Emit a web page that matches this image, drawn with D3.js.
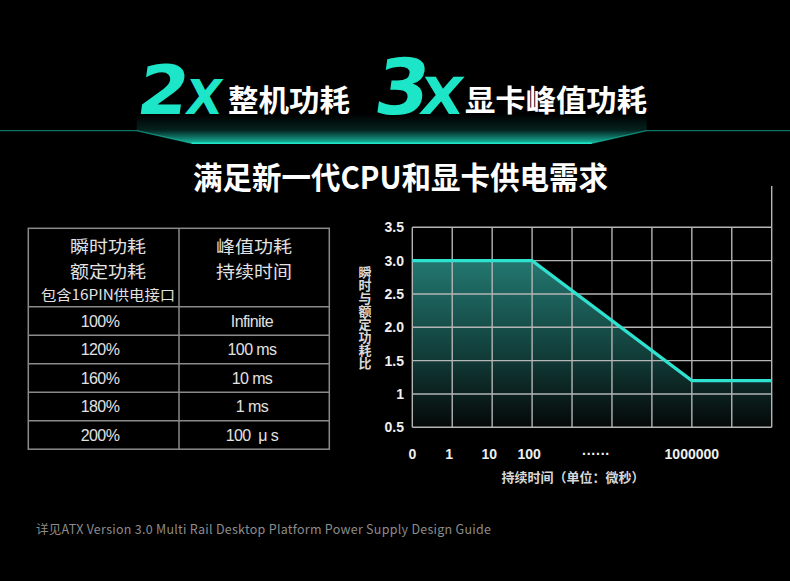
<!DOCTYPE html>
<html>
<head>
<meta charset="utf-8">
<script src="https://cdn.jsdelivr.net/npm/d3@7"></script>
<style>
  html, body { margin: 0; padding: 0; background: #000; }
  svg { display: block; }
</style>
</head>
<body>
<div id="chart"></div>
<script>
// chart data
const yTicks = [0.5, 1, 1.5, 2, 2.5, 3, 3.5];
const yTickLabels = ["0.5", "1", "1.5", "2.0", "2.5", "3.0", "3.5"];
const gridCols = [0, 1, 2, 3, 4, 5, 6, 7, 8, 9];
const xTickPos = [0, 1, 2, 3, 4.6, 7];
const xTickLabels = ["0", "1", "10", "100", "······", "1000000"];
const curveX = [0, 3, 7, 9];
const curveY = [3.0, 3.0, 1.2, 1.2];

// table data
const headLeft = ["瞬时功耗", "额定功耗", "包含16PIN供电接口"];
const headRight = ["峰值功耗", "持续时间"];
const ratios = ["100%", "120%", "160%", "180%", "200%"];
const durations = ["Infinite", "100 ms", "10 ms", "1 ms", "100  μ s"];

const W = 790, H = 581;
const teal = "#1de6c8";
const cjk = "'Noto Sans CJK SC', 'Noto Sans', sans-serif";

const svg = d3.select("#chart").append("svg")
    .attr("width", W)
    .attr("height", H);

const defs = svg.append("defs");

const glow = defs.append("linearGradient")
    .attr("id", "glow").attr("x1", 0).attr("y1", 0).attr("x2", 0).attr("y2", 1);
glow.append("stop").attr("offset", "0%").attr("stop-color", teal).attr("stop-opacity", 0);
glow.append("stop").attr("offset", "55%").attr("stop-color", teal).attr("stop-opacity", 0.15);
glow.append("stop").attr("offset", "100%").attr("stop-color", teal).attr("stop-opacity", 0.8);

const areaGrad = defs.append("linearGradient")
    .attr("id", "areaGrad").attr("x1", 0).attr("y1", 0).attr("x2", 0).attr("y2", 1);
areaGrad.append("stop").attr("offset", "0%").attr("stop-color", "#237770");
areaGrad.append("stop").attr("offset", "55%").attr("stop-color", "#123f3b");
areaGrad.append("stop").attr("offset", "100%").attr("stop-color", "#050808");

svg.append("rect").attr("width", W).attr("height", H).attr("fill", "#000");

// ---- headline ----
function bigGlyph(x, ch, len, size) {
    svg.append("text")
        .attr("x", x).attr("y", 114.5)
        .attr("font-family", "'DejaVu Sans', sans-serif")
        .attr("font-weight", "bold")
        .attr("font-size", size)
        .attr("fill", teal)
        .attr("textLength", len)
        .attr("lengthAdjust", "spacingAndGlyphs")
        .attr("transform", `skewX(-8) translate(${114.5 * Math.tan(8 * Math.PI / 180)},0)`)
        .text(ch);
}
bigGlyph(135, "2", 51, 68);
bigGlyph(184, "X", 36, 48);
bigGlyph(372, "3", 54, 77);
bigGlyph(418, "X", 43, 51);

svg.append("text")
    .attr("x", 228).attr("y", 111)
    .attr("font-family", cjk).attr("font-weight", "bold").attr("font-size", 30)
    .attr("fill", "#fff")
    .attr("textLength", 122).attr("lengthAdjust", "spacingAndGlyphs")
    .text("整机功耗");
svg.append("text")
    .attr("x", 465).attr("y", 111)
    .attr("font-family", cjk).attr("font-weight", "bold").attr("font-size", 30)
    .attr("fill", "#fff")
    .attr("textLength", 182).attr("lengthAdjust", "spacingAndGlyphs")
    .text("显卡峰值功耗");

// glowing band under the headline
svg.append("path")
    .attr("d", "M136.7,114 L646.7,114 L646.7,130.7 L591.7,143.3 L191.7,143.3 L136.7,130.7 Z")
    .attr("fill", "url(#glow)");
svg.append("path")
    .attr("d", "M0,130.7 L136.7,130.7 L191.7,143.3 L591.7,143.3 L646.7,130.7 L790,130.7")
    .attr("fill", "none")
    .attr("stroke", teal)
    .attr("stroke-opacity", 0.5)
    .attr("stroke-width", 1.2);
svg.append("line")
    .attr("x1", 191.7).attr("x2", 591.7).attr("y1", 143.3).attr("y2", 143.3)
    .attr("stroke", teal).attr("stroke-width", 1.6);

svg.append("text")
    .attr("x", 193).attr("y", 189)
    .attr("font-family", cjk).attr("font-weight", "bold").attr("font-size", 31)
    .attr("fill", "#fff")
    .attr("textLength", 415).attr("lengthAdjust", "spacingAndGlyphs")
    .text("满足新一代CPU和显卡供电需求");

// ---- table ----
const tLeft = 28.3, tMid = 179, tRight = 329.3, tTop = 228.3, headBottom = 306.7, rowH = 28.5;
const rowScale = d3.scaleBand()
    .domain(d3.range(ratios.length))
    .range([headBottom, headBottom + rowH * ratios.length]);
const tBottom = headBottom + rowH * ratios.length;
const table = svg.append("g");

table.append("rect")
    .attr("x", tLeft).attr("y", tTop)
    .attr("width", tRight - tLeft).attr("height", tBottom - tTop)
    .attr("fill", "none").attr("stroke", "#8a8a8a").attr("stroke-width", 1.5);
table.append("line")
    .attr("x1", tMid).attr("x2", tMid).attr("y1", tTop).attr("y2", tBottom)
    .attr("stroke", "#8a8a8a").attr("stroke-width", 1.5);
table.selectAll("line.row")
    .data(d3.range(ratios.length))
    .enter().append("line")
    .attr("class", "row")
    .attr("x1", tLeft).attr("x2", tRight)
    .attr("y1", d => rowScale(d)).attr("y2", d => rowScale(d))
    .attr("stroke", "#8a8a8a").attr("stroke-width", 1.5);

// header cells, one text per line
const headY = [253, 278, 300];
const headSize = [17, 17, 14];
const headLen = [76, 76, 134];
function headCell(lines, cx) {
    table.selectAll(null)
        .data(lines)
        .enter().append("text")
        .attr("x", (d, i) => cx - headLen[i] / 2)
        .attr("y", (d, i) => headY[i])
        .attr("font-family", cjk)
        .attr("font-size", (d, i) => headSize[i])
        .attr("textLength", (d, i) => headLen[i])
        .attr("lengthAdjust", "spacingAndGlyphs")
        .attr("fill", "#e2e2e2")
        .text(d => d);
}
headCell(headLeft, 108);
headCell(headRight, 254);

const cellFont = "'Liberation Sans', sans-serif";
table.selectAll("text.ratio")
    .data(ratios)
    .enter().append("text")
    .attr("class", "ratio")
    .attr("x", 100)
    .attr("y", (d, i) => rowScale(i) + rowScale.bandwidth() / 2 + 5.8)
    .attr("text-anchor", "middle")
    .attr("font-family", cellFont).attr("font-size", 16)
    .attr("letter-spacing", -0.6)
    .attr("fill", "#e2e2e2")
    .text(d => d);
table.selectAll("text.dur")
    .data(durations)
    .enter().append("text")
    .attr("class", "dur")
    .attr("x", 252)
    .attr("y", (d, i) => rowScale(i) + rowScale.bandwidth() / 2 + 5.8)
    .attr("text-anchor", "middle")
    .attr("font-family", cellFont).attr("font-size", 16)
    .attr("letter-spacing", -0.6)
    .attr("fill", "#e2e2e2")
    .style("white-space", "pre")
    .text(d => d);

// ---- chart ----
const x = d3.scaleLinear().domain([0, 9]).range([412.3, 771.7]);
const y = d3.scaleLinear().domain([0.5, 3.5]).range([427.3, 227.3]);
const plot = svg.append("g");

const area = d3.area()
    .x(d => x(d[0]))
    .y0(y(0.5))
    .y1(d => y(d[1]));
const line = d3.line()
    .x(d => x(d[0]))
    .y(d => y(d[1]));
const pts = curveX.map((v, i) => [v, curveY[i]]);

plot.append("path")
    .datum(pts)
    .attr("d", area)
    .attr("fill", "url(#areaGrad)");

plot.selectAll("line.hgrid")
    .data(yTicks)
    .enter().append("line")
    .attr("class", "hgrid")
    .attr("x1", x(0)).attr("x2", x(9))
    .attr("y1", d => y(d)).attr("y2", d => y(d))
    .attr("stroke", "#b5b5b5").attr("stroke-width", 1.4);
plot.selectAll("line.vgrid")
    .data(gridCols)
    .enter().append("line")
    .attr("class", "vgrid")
    .attr("x1", d => x(d)).attr("x2", d => x(d))
    .attr("y1", y(3.5)).attr("y2", y(0.5))
    .attr("stroke", "#b5b5b5").attr("stroke-width", 1.4);
// right border runs above the plot
plot.append("line")
    .attr("x1", x(9)).attr("x2", x(9))
    .attr("y1", 186).attr("y2", y(3.5))
    .attr("stroke", "#b5b5b5").attr("stroke-width", 1.4);

plot.append("path")
    .datum(pts)
    .attr("d", line)
    .attr("fill", "none")
    .attr("stroke", "#2fe2d0")
    .attr("stroke-width", 3.2);

plot.selectAll("text.ytick")
    .data(yTicks)
    .enter().append("text")
    .attr("class", "ytick")
    .attr("x", 404)
    .attr("y", d => y(d) + 5)
    .attr("text-anchor", "end")
    .attr("font-family", "'Liberation Sans', sans-serif")
    .attr("font-weight", "bold").attr("font-size", 14)
    .attr("fill", "#f0f0f0")
    .text((d, i) => yTickLabels[i]);

plot.selectAll("text.xtick")
    .data(xTickPos)
    .enter().append("text")
    .attr("class", "xtick")
    .attr("x", d => x(d) - (d > 0 && d < 4 ? 3 : 0))
    .attr("y", 459)
    .attr("text-anchor", "middle")
    .attr("font-family", "'Liberation Sans', sans-serif")
    .attr("font-weight", "bold").attr("font-size", 14)
    .attr("fill", "#f0f0f0")
    .text((d, i) => xTickLabels[i]);

plot.append("text")
    .attr("x", 573).attr("y", 482)
    .attr("text-anchor", "middle")
    .attr("font-family", cjk).attr("font-weight", "bold").attr("font-size", 13)
    .attr("fill", "#d8d8d8")
    .text("持续时间（单位：微秒）");

// vertical axis title, one text element written top to bottom
plot.append("text")
    .attr("x", 365).attr("y", 266)
    .attr("font-family", cjk).attr("font-weight", "bold").attr("font-size", 13)
    .attr("fill", "#d8d8d8")
    .style("writing-mode", "vertical-rl")
    .style("text-orientation", "upright")
    .text("瞬时与额定功耗比");

// ---- footnote ----
svg.append("text")
    .attr("x", 36).attr("y", 534)
    .attr("font-family", cjk).attr("font-size", 12.5)
    .attr("fill", "#8c8c8c")
    .attr("textLength", 455).attr("lengthAdjust", "spacing")
    .text("详见ATX Version 3.0 Multi Rail Desktop Platform Power Supply Design Guide");
</script>
</body>
</html>
